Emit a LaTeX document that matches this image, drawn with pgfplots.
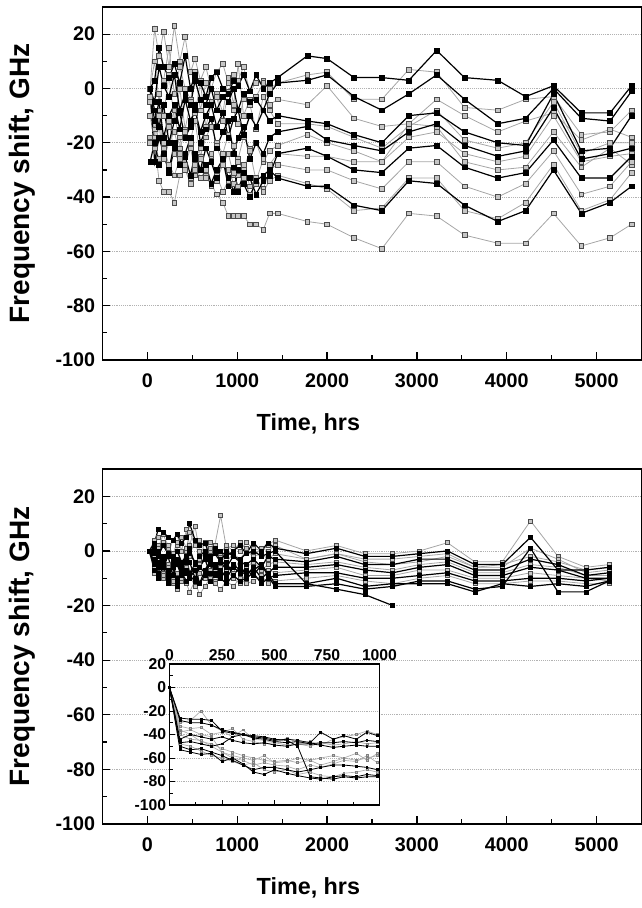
\documentclass[border=0pt]{standalone}
\usepackage{fontspec}
\setmainfont{Liberation Sans}
\usepackage{pgfplots}
\pgfplotsset{compat=1.18}
\usepackage{pgfplotstable}

\pgfplotstableread{
t U1 U2 U3 U4 U5 U6 U7 U8 U9 U10 U11 U12 U13 U14
30 0 0 0 0 0 0 0 -5 -27 -18 -3 0 -10 -20
80 3 22 -5 10 -12 -18 -8 -20 -20 -22 -15 -27 -20 -20
130 15 12 8 -5 -5 -2 -14 -10 -28 -14 -8 -18 -26 -34
180 8 21 1 3 -18 -10 -6 -24 -24 -26 -20 -24 -22 -38
240 4 8 -3 15 -10 5 -20 -14 -31 -20 -12 -30 -28 -38
300 9 23 5 -2 -6 -12 -12 -8 -22 -16 -24 -20 -32 -42
360 2 10 -8 8 -15 0 -9 -22 -28 -24 -18 -28 -26 -32
420 12 19 -2 0 -4 -15 -18 -16 -24 -28 -28 -25 -30 -30
480 0 6 -6 -4 -12 -5 -14 -19 -18 -20 -22 -32 -35 -33
530 5 11 3 6 -8 -9 -6 -12 -26 -26 -30 -24 -28 -32
590 2 3 -4 -8 -16 2 -20 -25 -30 -22 -26 -30 -33 -33
650 -3 8 -6 2 -10 -14 -15 -18 -22 -30 -32 -28 -30 -33
710 4 0 0 -5 -6 -6 -11 -14 -27 -25 -24 -35 -36 -35
770 6 6 -8 -2 -14 -3 -22 -20 -33 -21 -34 -30 -32 -39
840 0 9 -3 -9 -9 -12 -16 -24 -26 -28 -28 -26 -38 -42
900 -2 2 -5 4 -18 -1 -12 -17 -36 -24 -30 -33 -34 -47
960 3 5 0 -6 -11 -8 -24 -21 -29 -32 -35 -38 -31 -47
1010 1 3 -8 9 -8 -13 -18 -26 -38 -27 -32 -30 -36 -47
1070 5 8 -2 -10 -17 -4 -14 -18 -31 -30 -28 -35 -33 -47
1140 -1 -1 -5 -4 -10 -6 -26 -22 -33 -23 -36 -40 -39 -50
1210 5 2 -4 -3 -14 -15 -20 -20 -39 -34 -33 -34 -35 -50
1290 0 3 -8 2 -8 -3 -24 -27 -34 -26 -37 -32 -38 -52
1360 2 0 -2 -6 -12 -8 -18 -23 -32 -28 -30 -30 -34 -46
1450 4 2 2 -4 -10 -13 -16 -21 -24 -24 -28 -33 -32 -46
1780 12 5 3 -6 -12 -13 -14 -17 -22 -25 -30 -36 -35 -49
2000 11 6 5 1 -13 -14 -19 -20 -25 -25 -30 -36 -37 -50
2300 4 -4 -3 -11 -17 -18 -21 -23 -30 -27 -34 -43 -45 -55
2610 4 -4 -8 -14 -20 -22 -23 -27 -31 -27 -37 -45 -44 -59
2910 3 7 -2 -13 -10 -14 -16 -18 -22 -13 -27 -34 -33 -46
3220 14 6 5 -4 -9 -8 -13 -16 -21 -14 -27 -35 -33 -47
3530 4 -7 -4 -10 -16 -19 -21 -24 -29 -27 -36 -43 -45 -54
3900 3 -8 -13 -16 -20 -22 -25 -27 -33 -30 -40 -49 -48 -57
4210 -3 -4 -11 -12 -21 -20 -23 -25 -31 -29 -35 -45 -42 -57
4520 1 -3 0 -9 -2 -5 -7 -10 -19 -16 -23 -30 -28 -46
4830 -9 -17 -11 -19 -23 -24 -26 -27 -33 -29 -39 -46 -45 -58
5150 -9 -16 -12 -15 -22 -20 -24 -25 -33 -22 -36 -42 -41 -55
5390 1 -8 -1 -18 -10 -20 -22 -24 -25 -28 -27 -36 -31 -50
}\tabUp

\pgfplotstableread{
t L1 L2 L3 L4 L5 L6 L7 L8 L9 L10 L11 L12 L13
20 0 0 0 0 0 0 0 0 0 0 0 0 0
80 -3 3 2 -4 -6 -5 -8 -7 -2 -1 -3 1 4
120 2 8 5 0 -2 -8 -4 -10 -5 -4 -6 -2 1
175 -4 7 3 -6 -8 -3 -10 -6 -9 -2 -4 2 6
230 1 5 -1 -2 -5 -10 -6 -12 -7 -7 -8 -1 2
285 -3 4 4 -9 -10 -6 -12 -9 -11 -5 -2 -3 -1
330 2 6 6 -3 -4 -12 -8 -13 -14 -10 -5 0 3
380 -5 3 0 -5 -7 -7 -11 -8 -10 -6 -9 -4 5
435 0 5 8 -8 -3 -4 -6 -11 -12 -3 -7 -2 1
470 -2 10 2 -1 -9 -9 -9 -10 -15 -8 -4 1 7
530 4 4 9 -4 -6 -11 -13 -7 -11 -5 -10 -5 2
580 -3 2 0 -6 -5 -6 -8 -12 -16 -12 -6 -2 4
640 3 3 -3 -2 -8 -8 -10 -9 -13 -7 -3 0 0
695 0 -2 1 -5 -4 -5 -7 -11 -10 -4 -8 -3 3
750 2 1 0 1 -7 -9 -11 -8 -12 -6 -5 -1 1
815 13 0 -2 -3 -6 -7 -9 -10 -14 -9 -7 -4 -1
880 1 -2 -4 -6 -5 -10 -7 -12 -11 -8 -4 0 2
955 2 0 -1 -2 -8 -6 -10 -9 -13 -5 -9 -2 0
1030 0 2 -3 -4 -3 -8 -12 -11 -10 -7 -6 -3 3
1100 3 -1 0 -5 -6 -7 -8 -10 -12 -9 -8 -1 1
1180 1 3 -2 -3 -4 -9 -9 -8 -11 -6 -7 0 -2
1270 0 0 -1 -6 -7 -5 -11 -12 -9 -10 -5 -2 1
1340 2 3 -3 -2 -5 -8 -7 -10 -12 -8 -9 -1 0
1420 4 1 -1 -3 -4 -6 -8 -9 -11 -12 -13 0 2
1770 0 -1 -3 -4 -5 -6 -7 -8 -10 -12 -13 -12 -3
2105 2 1 -1 -2 -4 -5 -6 -8 -9 -10 -12 -14 -1
2420 -1 -2 -3 -5 -6 -7 -9 -10 -11 -13 -14 -16 -4
2730 -1 -2 -3 -5 -7 -8 -9 -10 -12 -12 -13 -20 -5
3030 0 -1 -2 -3 -5 -6 -7 -9 -10 -12 -11 nan -4
3340 3 0 -1 -3 -4 -5 -7 -8 -9 -12 -11 nan -2
3645 -4 -5 -6 -7 -8 -9 -10 -11 -12 -15 -14 nan -6
3950 -4 -5 -6 -7 -8 -9 -10 -11 -12 -12 -13 nan -5
4265 11 5 1 -3 -5 -6 -8 -10 -11 -13 1 nan -2
4570 -2 -7 -3 -5 -6 -7 -9 -10 -11 -12 -15 nan -4
4880 -6 -7 -8 -9 -9 -10 -10 -11 -12 -13 -15 nan -7
5140 -5 -6 -7 -8 -9 -10 -11 -10 -12 -11 -11 nan -6
}\tabLo

\pgfplotstableread{
t I1 I2 I3 I4 I5 I6 I7 I8 I9 I10 I11 I12
0 0 0 0 0 0 0 0 0 0 0 0 0
50 -26 -28 -30 -33 -44 -47 -36 -40 -50 -53 -48 -38
100 -27 -30 -28 -35 -40 -46 -40 -44 -53 -55 -50 -36
150 -27 -30 -20 -34 -42 -48 -46 -45 -52 -57 -54 -40
200 -28 -32 -32 -40 -44 -50 -48 -50 -55 -56 -58 -42
250 -37 -36 -37 -38 -42 -48 -52 -55 -58 -63 -60 -55
300 -39 -38 -42 -35 -45 -42 -55 -60 -62 -60 -63 -58
350 -40 -40 -36 -44 -47 -40 -58 -62 -66 -65 -66 -60
400 -42 -43 -44 -46 -48 -41 -60 -66 -70 -72 -64 -62
450 -43 -44 -45 -48 -47 -42 -62 -64 -68 -74 -70 -58
500 -45 -46 -47 -47 -49 -44 -63 -66 -68 -70 -72 -64
560 -44 -47 -43 -49 -50 -45 -62 -67 -70 -73 -70 -63
610 -45 -46 -47 -48 -48 -50 -64 -70 -72 -75 -74 -60
670 -47 -48 -46 -50 -48 -76 -62 -66 -70 -77 -72 -62
720 -38 -47 -49 -47 -49 -77 -66 -68 -68 -78 -75 -60
780 -44 -47 -44 -49 -51 -78 -63 -65 -66 -76 -76 -58
830 -41 -46 -42 -48 -50 -76 -60 -62 -66 -75 -73 -60
890 -44 -47 -40 -46 -49 -77 -62 -63 -67 -76 -72 -56
940 -38 -45 -37 -48 -50 -76 -60 -58 -68 -74 -70 -62
990 -41 -46 -40 -47 -50 -76 -58 -64 -70 -75 -72 -56
}\tabIn

\pgfplotsset{
  K/.style={black, line width=0.9pt, mark=square*, mark size=1.8pt,
    mark options={solid, fill=black, draw=black, line width=0.3pt}},
  G/.style={gray!70, line width=0.6pt, mark=square*, mark size=1.8pt,
    mark options={solid, fill=gray!45, draw=gray!60!black, line width=0.4pt}},
  k/.style={black, line width=0.6pt, mark=square*, mark size=0.7pt,
    mark options={solid, fill=black}},
  g/.style={gray!65, line width=0.5pt, mark=square*, mark size=0.7pt,
    mark options={solid, fill=gray!50, draw=gray}},
  panel/.style={
    scale only axis, width=404.25pt,
    xmin=-500, xmax=5500, ymin=-100, ymax=30,
    xtick={0,1000,2000,3000,4000,5000},
    xticklabels={0,1000,2000,3000,4000,5000},
    ytick={-100,-80,-60,-40,-20,0,20},
    yticklabels={-100,-80,-60,-40,-20,0,20},
    minor x tick num=1, minor y tick num=1,
    tick align=inside, tick pos=left,
    major tick length=6pt, minor tick length=3.5pt,
    every tick/.style={black, line width=0.9pt},
    axis line style={line width=1.3pt},
    ymajorgrids, major grid style={gray!60, densely dotted, line width=0.5pt},
    tick label style={font=\bfseries\fontsize{14.8}{16}\selectfont},
    yticklabel style={xshift=-2pt},
    xticklabel style={yshift=-6.5pt},
    xlabel={Time, hrs}, ylabel={Frequency shift, GHz},
    xlabel style={font=\bfseries\fontsize{17.5}{20}\selectfont, at={(axis description cs:0.382,-0.18)}, anchor=center},
    ylabel style={font=\bfseries\fontsize{21}{24}\selectfont, at={(axis description cs:-0.149,0.5)}, anchor=center},
    unbounded coords=jump,
  },
}

\begin{document}
\begin{tikzpicture}
\path[use as bounding box] (0,0) rectangle (481.5pt,681pt);

\begin{axis}[panel, at={(76.875pt,411pt)}, anchor=south west, height=264.75pt]
\addplot[G] table[x=t, y=U2] {\tabUp};
\addplot[G] table[x=t, y=U4] {\tabUp};
\addplot[G] table[x=t, y=U6] {\tabUp};
\addplot[G] table[x=t, y=U8] {\tabUp};
\addplot[G] table[x=t, y=U10] {\tabUp};
\addplot[G] table[x=t, y=U11] {\tabUp};
\addplot[G] table[x=t, y=U13] {\tabUp};
\addplot[G] table[x=t, y=U14] {\tabUp};
\addplot[K] table[x=t, y=U1] {\tabUp};
\addplot[K] table[x=t, y=U3] {\tabUp};
\addplot[K] table[x=t, y=U5] {\tabUp};
\addplot[K] table[x=t, y=U7] {\tabUp};
\addplot[K] table[x=t, y=U9] {\tabUp};
\addplot[K] table[x=t, y=U12] {\tabUp};
\end{axis}

\begin{axis}[panel, at={(76.875pt,63pt)}, anchor=south west, height=266.25pt]
\addplot[G, mark size=1.5pt] table[x=t, y=L1] {\tabLo};
\addplot[G, mark size=1.5pt] table[x=t, y=L3] {\tabLo};
\addplot[G, mark size=1.5pt] table[x=t, y=L5] {\tabLo};
\addplot[G, mark size=1.5pt] table[x=t, y=L7] {\tabLo};
\addplot[G, mark size=1.5pt] table[x=t, y=L9] {\tabLo};
\addplot[G, mark size=1.5pt] table[x=t, y=L13] {\tabLo};
\addplot[K, mark size=1.5pt] table[x=t, y=L2] {\tabLo};
\addplot[K, mark size=1.5pt] table[x=t, y=L4] {\tabLo};
\addplot[K, mark size=1.5pt] table[x=t, y=L6] {\tabLo};
\addplot[K, mark size=1.5pt] table[x=t, y=L8] {\tabLo};
\addplot[K, mark size=1.5pt] table[x=t, y=L10] {\tabLo};
\addplot[K, mark size=1.5pt] table[x=t, y=L11] {\tabLo};
\addplot[K, mark size=1.5pt] table[x=t, y=L12] {\tabLo};
\end{axis}

\begin{axis}[scale only axis, at={(127.125pt,77.25pt)}, anchor=south west,
  width=157.5pt, height=105.75pt,
  axis background/.style={fill=white},
  xmin=0, xmax=1000, ymin=-100, ymax=20,
  xtick={0,250,500,750,1000}, xticklabels={0,250,500,750,1000},
  ytick={-100,-80,-60,-40,-20,0,20}, yticklabels={-100,-80,-60,-40,-20,0,20},
  minor x tick num=1, minor y tick num=1,
  tick align=inside, xtick pos=bottom, ytick pos=left, xticklabel pos=top,
  major tick length=4pt, minor tick length=2.5pt,
  every tick/.style={black, line width=0.7pt},
  axis line style={line width=0.8pt},
  ymajorgrids, major grid style={gray!60, densely dotted, line width=0.4pt},
  tick label style={font=\bfseries\fontsize{11.8}{13}\selectfont},
  yticklabel style={xshift=1pt},
  xticklabel style={yshift=-1pt},
]
\addplot[g] table[x=t, y=I3] {\tabIn};
\addplot[g] table[x=t, y=I4] {\tabIn};
\addplot[g] table[x=t, y=I7] {\tabIn};
\addplot[g] table[x=t, y=I8] {\tabIn};
\addplot[g] table[x=t, y=I11] {\tabIn};
\addplot[g] table[x=t, y=I12] {\tabIn};
\addplot[k] table[x=t, y=I1] {\tabIn};
\addplot[k] table[x=t, y=I2] {\tabIn};
\addplot[k] table[x=t, y=I5] {\tabIn};
\addplot[k] table[x=t, y=I6] {\tabIn};
\addplot[k] table[x=t, y=I9] {\tabIn};
\addplot[k] table[x=t, y=I10] {\tabIn};
\end{axis}
\end{tikzpicture}
\end{document}
